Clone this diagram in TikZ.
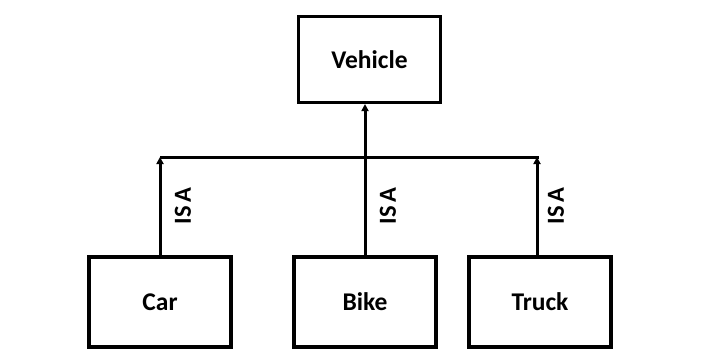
\documentclass[tikz,border=0pt]{standalone}
\usepackage{fontspec}
\setmainfont{Carlito}
\usetikzlibrary{arrows.meta}
\begin{document}
\begin{tikzpicture}[x=1pt,y=-1pt,
  box/.style={draw,line width=3.1pt,minimum width=142pt,minimum height=90pt,inner sep=0pt,font=\fontsize{25.5}{28}\selectfont\bfseries},
  conn/.style={line width=3pt},
  arr/.style={conn,-{Triangle[length=7pt,width=7pt]}},
  lbl/.style={rotate=90,font=\fontsize{24.5}{27}\selectfont\bfseries,inner sep=0pt}]
\useasboundingbox (0,0) rectangle (720,364);
\node[box,minimum height=86pt] (veh) at (369.5,59.5) {Vehicle};
\node[box] (car) at (160,302) {Car};
\node[box] (bike) at (365,302) {Bike};
\node[box] (truck) at (540,302) {Truck};
\coordinate (jl) at (160,157);
\coordinate (jr) at (539,157);
\draw[conn] (jl) -- (jr);
\draw[arr] (car.north) -- (jl);
\draw[arr] (truck.north -| 537,0) -- (537,157);
\draw[arr] (bike.north) -- (bike.north |- veh.south);
\node[lbl] (l1) at (183,206) {IS\,A};
\node[lbl] (l2) at (388,206) {IS\,A};
\node[lbl] (l3) at (556,206) {IS\,A};
\end{tikzpicture}
\end{document}
